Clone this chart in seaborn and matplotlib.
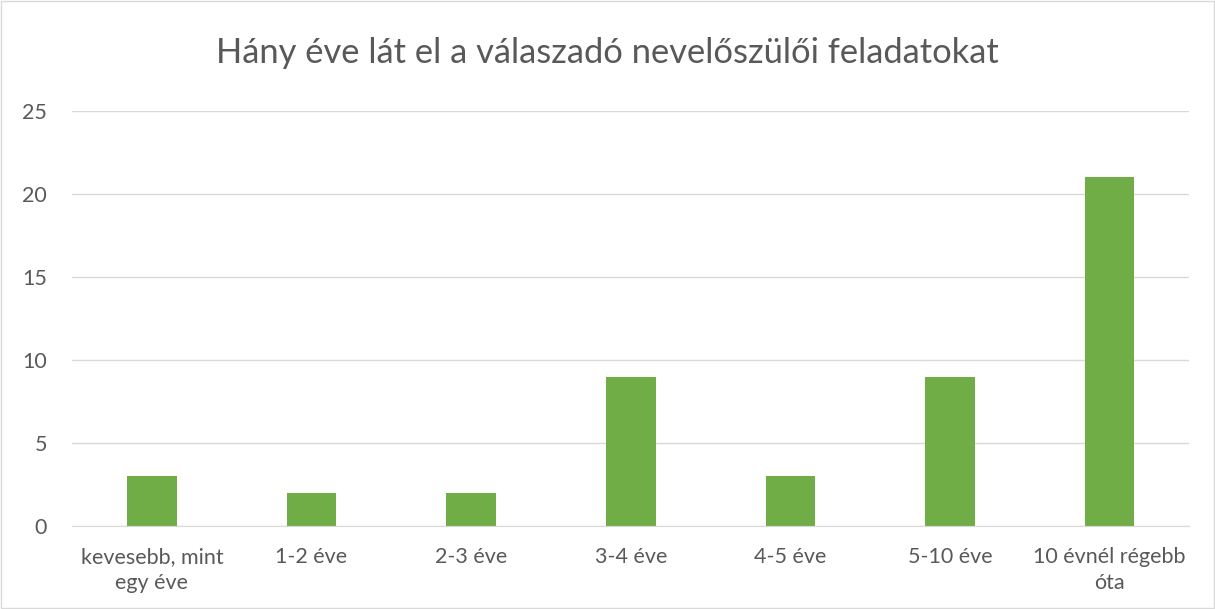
import matplotlib
matplotlib.use("Agg")
import matplotlib.pyplot as plt
import seaborn as sns
import pandas as pd

categories = ["kevesebb, mint\negy éve", "1-2 éve", "2-3 éve", "3-4 éve",
              "4-5 éve", "5-10 éve", "10 évnél régebb\nóta"]
values = [3, 2, 2, 9, 3, 9, 21]

df = pd.DataFrame({"kat": categories, "db": values})

sns.set_style("white")
plt.rcParams['font.family'] = ['Lato', 'DejaVu Sans']

fig = plt.figure(figsize=(12.15, 6.09), dpi=100)
ax = fig.add_axes([0.0593, 0.1363, 0.9197, 0.6814])

sns.barplot(data=df, x="kat", y="db", color="#70AD47", width=0.31, saturation=1,
            linewidth=0, ax=ax)

ax.set_ylim(0, 25)
ax.set_yticks([0, 5, 10, 15, 20, 25])
ax.yaxis.grid(True, color="#D9D9D9", linewidth=1)
ax.set_axisbelow(True)
for s in ["top", "right", "left"]:
    ax.spines[s].set_visible(False)
ax.spines["bottom"].set_color("#D9D9D9")
ax.tick_params(axis="both", length=0, labelsize=15.5, colors="#595959")
ax.tick_params(axis="x", pad=15)
ax.tick_params(axis="y", pad=18)
for t in ax.get_xticklabels():
    t.set_linespacing(1.4)
ax.set_xlabel("")
ax.set_ylabel("")

fig.suptitle("Hány éve lát el a válaszadó nevelőszülői feladatokat",
             fontsize=24.8, color="#595959", y=0.94)

# keret a kép körül
fig.patches.append(plt.Rectangle((0.001, 0.001), 0.998, 0.998, transform=fig.transFigure,
                                 fill=False, edgecolor="#D9D9D9", linewidth=1))

fig.savefig("out.png", dpi=100)
